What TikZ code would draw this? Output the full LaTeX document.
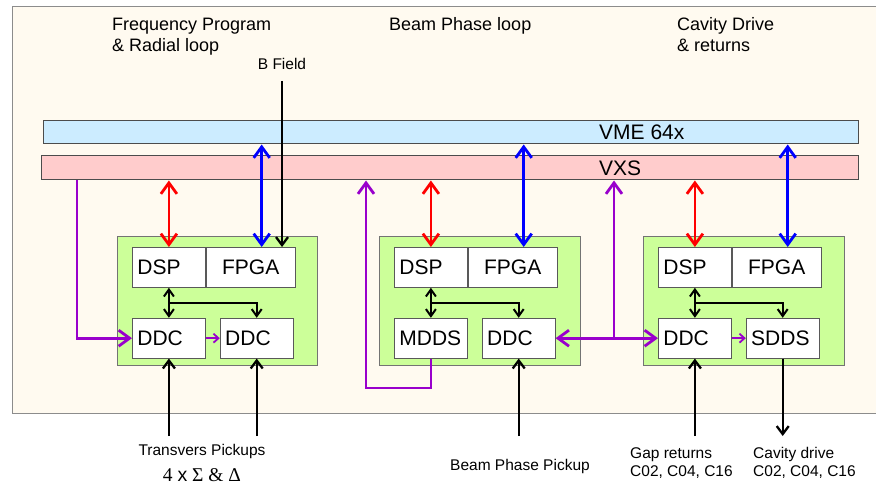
\documentclass[tikz,border=0pt]{standalone}
\usepackage{fontspec}
\setmainfont{Liberation Sans}
\newfontfamily\grserif{Liberation Serif}
\usetikzlibrary{arrows.meta,positioning,calc}
\definecolor{bgcream}{RGB}{255,250,240}
\definecolor{vmeblue}{RGB}{204,236,255}
\definecolor{vxspink}{RGB}{255,204,204}
\definecolor{cardgreen}{RGB}{204,255,153}
\definecolor{purp}{RGB}{153,0,204}
\tikzset{
  bus/.style={draw=black!70,line width=1pt,inner sep=0pt},
  buslbl/.style={anchor=west,inner sep=0pt,font={\fontsize{21}{25}\selectfont}},
  card/.style={draw=black!55,fill=cardgreen,line width=1pt,anchor=north west,
    minimum width=201pt,minimum height=129pt,inner sep=0pt},
  chip/.style={draw=black!65,fill=white,line width=0.8pt,anchor=north west,
    minimum height=40pt,text width=63pt,inner xsep=5pt,inner ysep=0pt,align=left,
    font={\fontsize{21}{25}\selectfont}},
  fpga/.style={text width=79pt,align=center},
  lbl/.style={inner sep=0pt,font={\fontsize{15.5}{18}\selectfont}},
  ttl/.style={anchor=north west,align=left,inner sep=0pt,font={\fontsize{18}{21}\selectfont}},
  lnk/.style={line width=2.8pt,>={Straight Barb[length=11pt,width=16pt]}},
  blk/.style={line width=2.3pt,>={Straight Barb[length=8pt,width=12pt]}},
  inr/.style={line width=2pt,>={Straight Barb[length=7pt,width=10pt]}},
  tiny/.style={draw=purp,line width=1.8pt,>={Straight Barb[length=5pt,width=9pt]}},
}

\begin{document}
\begin{tikzpicture}[x=1pt,y=-1pt]
  \useasboundingbox (0,0) rectangle (876,486);
  \fill[bgcream,draw=black!45,line width=1pt] (12,7) rectangle (890,413);
  % titles
  \node[ttl] (fp) at (112,17.5) {Frequency Program\\\& Radial loop};
  \node[ttl] (bpl) at (389,17.5) {Beam Phase loop};
  \node[ttl] (cd) at (677,17.5) {Cavity Drive\\\& returns};
  % buses
  \node[bus,fill=vmeblue,minimum width=815pt,minimum height=23pt] (vme) at (450.5,132.5) {};
  \node[buslbl] (vmet) at (599,132.5) {VME 64x};
  \node[bus,fill=vxspink,minimum width=817pt,minimum height=24pt] (vxs) at (449.5,168) {};
  \node[buslbl] (vxst) at (599,168) {VXS};
  % cards
  \node[card,minimum width=200pt] (m1) at (117,236) {};
  \node[chip] (dsp1) at ([shift={(15,11)}]m1.north west) {DSP};
  \node[chip,fpga,right=0pt of dsp1] (fpga1) {FPGA};
  \node[chip,below=30pt of dsp1] (ddc1) {DDC};
  \node[chip,right=14pt of ddc1] (ddc1b) {DDC};
  \node[card] (m2) at (379,236) {};
  \node[chip] (dsp2) at ([shift={(15,11)}]m2.north west) {DSP};
  \node[chip,fpga,right=0pt of dsp2] (fpga2) {FPGA};
  \node[chip,below=30pt of dsp2] (mdds2) {MDDS};
  \node[chip,right=14pt of mdds2] (ddc2) {DDC};
  \node[card] (m3) at (643,236) {};
  \node[chip] (dsp3) at ([shift={(15,11)}]m3.north west) {DSP};
  \node[chip,fpga,right=0pt of dsp3] (fpga3) {FPGA};
  \node[chip,below=30pt of dsp3] (ddc3) {DDC};
  \node[chip,right=14pt of ddc3] (sdds3) {SDDS};
  % free ends
  \coordinate (bl1) at ([xshift=11pt]fpga1.north);
  \coordinate (bl2) at ([xshift=11pt]fpga2.north);
  \coordinate (bl3) at ([xshift=11pt]fpga3.north);
  \coordinate (bfe) at (282,81);
  \coordinate (pv1) at (77,200);
  \coordinate (pl2) at (366,388);
  \coordinate (pj) at (614,337);
  \coordinate (bot) at (0,436);
  \coordinate (j1) at ($(dsp1.south)!0.5!(ddc1.north)$);
  \coordinate (j2) at ($(dsp2.south)!0.5!(mdds2.north)$);
  \coordinate (j3) at ($(dsp3.south)!0.5!(ddc3.north)$);
  % bus links
  \draw[lnk,red,<->] (dsp1.north |- vxs.south) -- (dsp1.north);
  \draw[lnk,red,<->] (dsp2.north |- vxs.south) -- (dsp2.north);
  \draw[lnk,red,<->] (dsp3.north |- vxs.south) -- (dsp3.north);
  \draw[lnk,blue,<->] (bl1 |- vme.south) -- (bl1);
  \draw[lnk,blue,<->] (bl2 |- vme.south) -- (bl2);
  \draw[lnk,blue,<->] (bl3 |- vme.south) -- (bl3);
  \node[lbl,above=11pt of bfe] (bf) {B Field};
  \draw[blk,->] (bfe) -- (bfe |- fpga1.north);
  % purple paths
  \draw[lnk,purp,->] (pv1 |- vxs.south) |- (ddc1.west);
  \draw[lnk,purp,->] (mdds2.south) |- (pl2) -- (pl2 |- vxs.south);
  \draw[lnk,purp,<->] (ddc2.east) -- (ddc3.west);
  \draw[lnk,purp,->] (pj) -- (pj |- vxs.south);
  \draw[tiny,->] (ddc1.east) -- (ddc1b.west);
  \draw[tiny,->] (ddc3.east) -- (sdds3.west);
  % on-card links
  \draw[inr,<->] (dsp1.south) -- (ddc1.north);
  \draw[inr,->] (j1) -| (ddc1b.north);
  \draw[inr,<->] (dsp2.south) -- (mdds2.north);
  \draw[inr,->] (j2) -| (ddc2.north);
  \draw[inr,<->] (dsp3.south) -- (ddc3.north);
  \draw[inr,->] (j3) -| (sdds3.north);
  % signals in and out
  \draw[blk,->] (ddc1.south |- bot) -- (ddc1.south);
  \draw[blk,->] (ddc1b.south |- bot) -- (ddc1b.south);
  \draw[blk,->] (ddc2.south |- bot) -- (ddc2.south);
  \draw[blk,->] (ddc3.south |- bot) -- (ddc3.south);
  \draw[blk,->] (sdds3.south) -- (sdds3.south |- bot);
  \node[lbl] (tp) at (202,451) {Transvers Pickups};
  \node[inner sep=0pt,font={\grserif\fontsize{19.5}{23}\selectfont}] (sd) at (202,475.5)
    {4 {\normalfont x} Σ \& Δ};
  \node[lbl] (bpp) at (520,466) {Beam Phase Pickup};
  \node[lbl,anchor=north west,align=left] (gap) at (630,447) {Gap returns\\C02, C04, C16};
  \node[lbl,anchor=north west,align=left] (cav) at (753,447) {Cavity drive\\C02, C04, C16};
\end{tikzpicture}
\end{document}
